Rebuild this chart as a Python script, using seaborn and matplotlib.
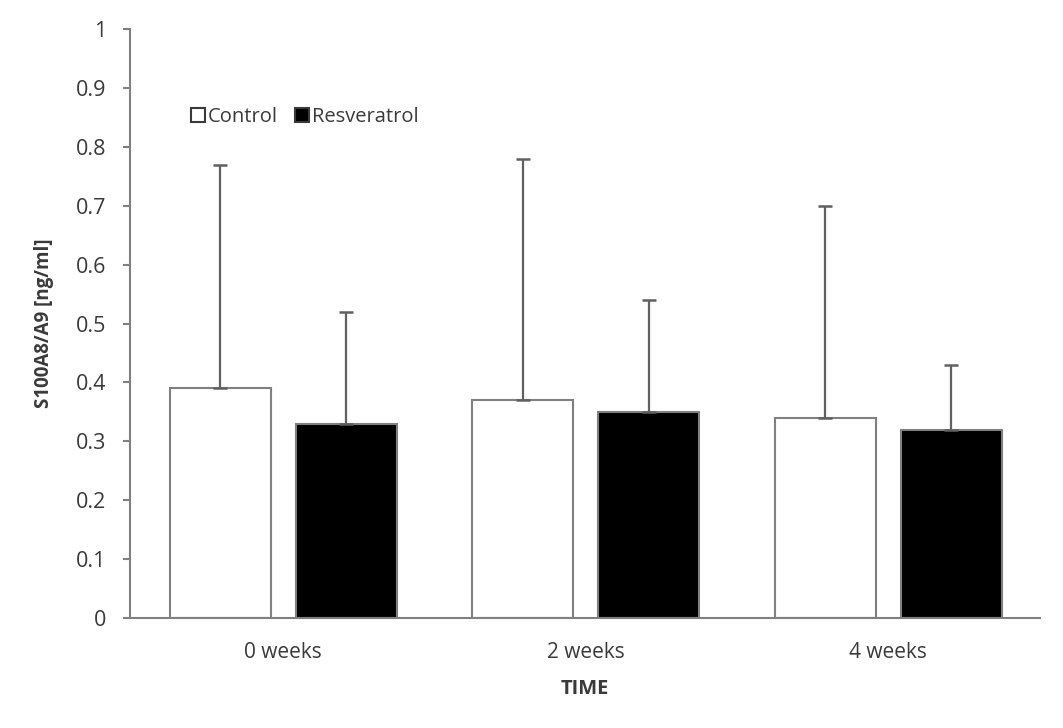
import numpy as np
import pandas as pd
import seaborn as sns
import matplotlib.pyplot as plt
from matplotlib.lines import Line2D
from matplotlib.ticker import FuncFormatter, MultipleLocator

times = ["0 weeks", "2 weeks", "4 weeks"]
groups = ["Control", "Resveratrol"]
control_mean = [0.39, 0.37, 0.34]
control_sd = [0.38, 0.41, 0.36]
resv_mean = [0.33, 0.35, 0.32]
resv_sd = [0.19, 0.19, 0.11]

sns.set_style("white")
plt.rcParams['font.family'] = ['Open Sans', 'DejaVu Sans']
text_col = "#3a3a3a"
line_col = "#808080"

df = pd.DataFrame({
    "time": times * 2,
    "group": [groups[0]] * 3 + [groups[1]] * 3,
    "value": control_mean + resv_mean,
})

fig, ax = plt.subplots(figsize=(10.63, 7.28), dpi=100)
fig.subplots_adjust(left=0.1223, right=0.978, top=0.960, bottom=0.151)

sns.barplot(data=df, x="time", y="value", hue="group", order=times,
            hue_order=groups, palette=["white", "black"], edgecolor=line_col,
            linewidth=1.5, width=0.833, gap=0.2, errorbar=None, legend=False, ax=ax)

# upper-only error bars on each bar
for cont, sds in zip(ax.containers, [control_sd, resv_sd]):
    xs = [p.get_x() + p.get_width() / 2 for p in cont.patches]
    ys = [p.get_height() for p in cont.patches]
    ax.errorbar(xs, ys, yerr=[np.zeros(len(sds)), sds], fmt="none",
                ecolor="#606060", elinewidth=1.6, capsize=5, capthick=1.8, zorder=1)

ax.set_ylim(0, 1)
ax.set_xlim(-0.507, 2.5)
ax.yaxis.set_major_locator(MultipleLocator(0.1))
ax.yaxis.set_major_formatter(FuncFormatter(lambda v, p: "{:g}".format(round(v, 1))))
for s in ["top", "right"]:
    ax.spines[s].set_visible(False)
for s in ["left", "bottom"]:
    ax.spines[s].set_color(line_col)
    ax.spines[s].set_linewidth(1.5)
ax.tick_params(axis="y", left=True, length=5, width=1.5, color=line_col,
               labelsize=15.5, labelcolor=text_col, pad=12)
ax.tick_params(axis="x", bottom=False, labelsize=15, labelcolor=text_col, pad=14)

ax.set_xlabel("TIME", fontsize=14.5, fontweight="bold", color=text_col, labelpad=11)
ax.set_ylabel("S100A8/A9 [ng/ml]", fontsize=13.5, fontweight="bold", color=text_col, labelpad=16)

handles = [Line2D([], [], ls="none", marker="s", markersize=9.5, markerfacecolor="white",
                  markeredgecolor=text_col, markeredgewidth=1.5),
           Line2D([], [], ls="none", marker="s", markersize=9.5, markerfacecolor="black",
                  markeredgecolor=text_col, markeredgewidth=1.5)]
leg = ax.legend(handles, groups, loc="center left", bbox_to_anchor=(0.048, 0.85), ncol=2,
                frameon=False, handlelength=0.6, handletextpad=0.2, columnspacing=0.9,
                fontsize=14.5)
for t in leg.get_texts():
    t.set_color(text_col)

fig.savefig("out.png", dpi=100)
